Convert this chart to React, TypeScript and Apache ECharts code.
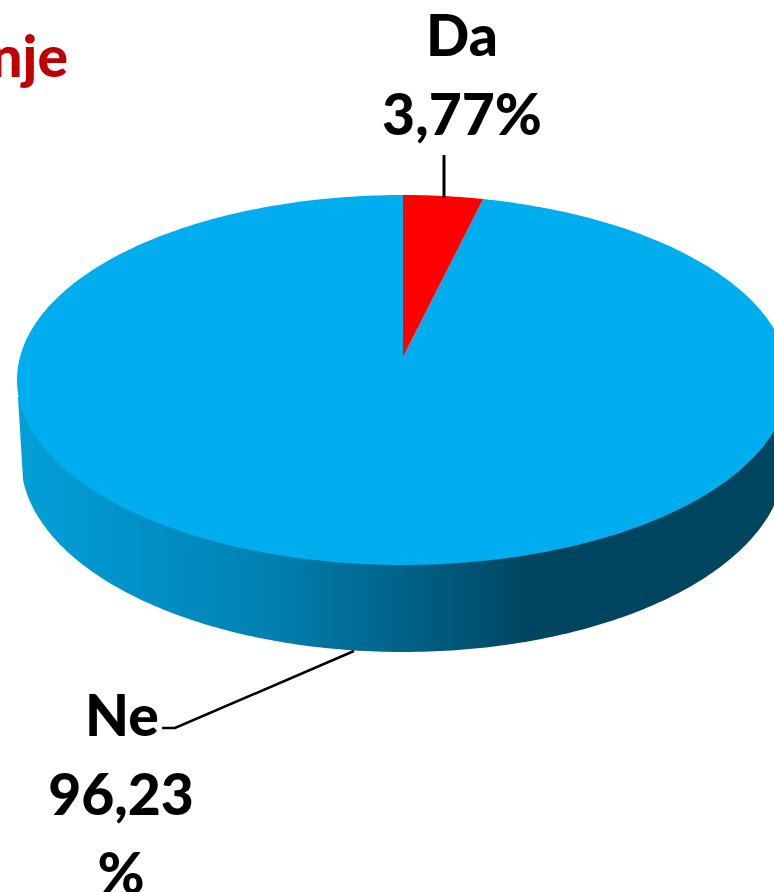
import React, { useEffect, useRef } from "react";
import * as echarts from "echarts";

const categories = ["Ne", "Da"];
const shares = [96.23, 3.77];
const shareTexts = ["96,23\n%", "3,77%"];
const sliceColors = ["#00AEEF", "#FF0000"];
const titleFragment = "nje";

const CX = 403;
const APEX_Y = 357;
const A = 383;
const B = 182.1;
const K = 0.1243;
const FONT = "Lato, Carlito, 'Open Sans', sans-serif";

// position on the top face for a clockwise angle measured from 12 o'clock
function project(theta: number, r = 1): [number, number] {
  const u = Math.sin(theta) * r;
  const v = Math.cos(theta) * r;
  const w = 1 + K * v;
  return [CX + (A * u) / w, APEX_Y - (B * v) / w];
}

function sliceAngles(index: number): [number, number] {
  const total = shares[0] + shares[1];
  const da = (shares[1] / total) * Math.PI * 2;
  return index === 1 ? [0, da] : [da, Math.PI * 2];
}

function topFace(a0: number, a1: number): number[][] {
  const pts: number[][] = [[CX, APEX_Y]];
  const n = Math.max(4, Math.ceil(((a1 - a0) / (Math.PI * 2)) * 360));
  for (let i = 0; i <= n; i++) pts.push(project(a0 + ((a1 - a0) * i) / n));
  return pts;
}

function wall(): number[][] {
  const pts: number[][] = [[18, 397]];
  const cy = 460, rx = 382, ry = 192;
  const start = Math.PI - Math.asin(20 / ry);
  for (let i = 0; i <= 200; i++) {
    const t = start + ((0 - start) * i) / 200;
    pts.push([CX + rx * Math.cos(t), cy + ry * Math.sin(t)]);
  }
  pts.push([789, 380], [CX, 380]);
  return pts;
}

function labelText(text: string, x: number, y: number, fill = "#000000", size = 57, align = "center") {
  return {
    type: "text",
    z2: 20,
    style: { text, x, y, fill, align, verticalAlign: "middle", font: `900 ${size}px ${FONT}`, lineHeight: 79 },
  };
}

function renderSlice(params: any) {
  const i = params.dataIndex;
  const [a0, a1] = sliceAngles(i);
  const children: any[] = [];
  if (i === 0) {
    children.push({
      type: "polygon",
      z2: 1,
      shape: { points: wall() },
      style: {
        fill: new echarts.graphic.LinearGradient(
          18, 0, 774, 0,
          [
            { offset: 0, color: "#049FD8" },
            { offset: 0.15, color: "#0092C8" },
            { offset: 0.32, color: "#0082B2" },
            { offset: 0.5, color: "#00648B" },
            { offset: 0.68, color: "#004560" },
            { offset: 1, color: "#004560" },
          ],
          true
        ),
      },
    });
    children.push({
      type: "polyline",
      z2: 5,
      shape: { points: [[162, 728], [175, 728], [354, 651]] },
      style: { stroke: "#000000", lineWidth: 2.5, fill: "none" },
    });
    children.push(labelText(`${categories[i]}`, 122, 714));
    children.push(labelText(shareTexts[i].split("\n")[0], 121, 793));
    children.push(labelText(shareTexts[i].split("\n")[1], 121, 872));
  } else {
    children.push({
      type: "line",
      z2: 5,
      shape: { x1: 444, y1: 155, x2: 444, y2: 198 },
      style: { stroke: "#000000", lineWidth: 3 },
    });
    children.push(labelText(categories[i], 462, 34));
    children.push(labelText(shareTexts[i], 462, 113));
  }
  children.push({
    type: "polygon",
    z2: i === 0 ? 2 : 3,
    shape: { points: topFace(a0, a1) },
    style: { fill: sliceColors[i] },
  });
  return { type: "group", children };
}

export default function App() {
  const ref = useRef<HTMLDivElement>(null);
  useEffect(() => {
    if (!ref.current) return;
    const chart = echarts.init(ref.current, undefined, { renderer: "svg" });
    chart.setOption({
      animation: false,
      backgroundColor: "#ffffff",
      graphic: [
        {
          type: "text",
          style: {
            text: titleFragment,
            x: 68,
            y: 55,
            align: "right",
            verticalAlign: "middle",
            fill: "#C00000",
            font: `900 57px ${FONT}`,
          },
        },
      ],
      series: [
        {
          type: "custom",
          coordinateSystem: "none",
          renderItem: renderSlice,
          data: shares.map((v, i) => ({ name: categories[i], value: [v] })),
          silent: true,
        },
      ],
    });
    return () => chart.dispose();
  }, []);
  return <div ref={ref} style={{ position: "fixed", left: 0, top: 0, width: 774, height: 892 }} />;
}
